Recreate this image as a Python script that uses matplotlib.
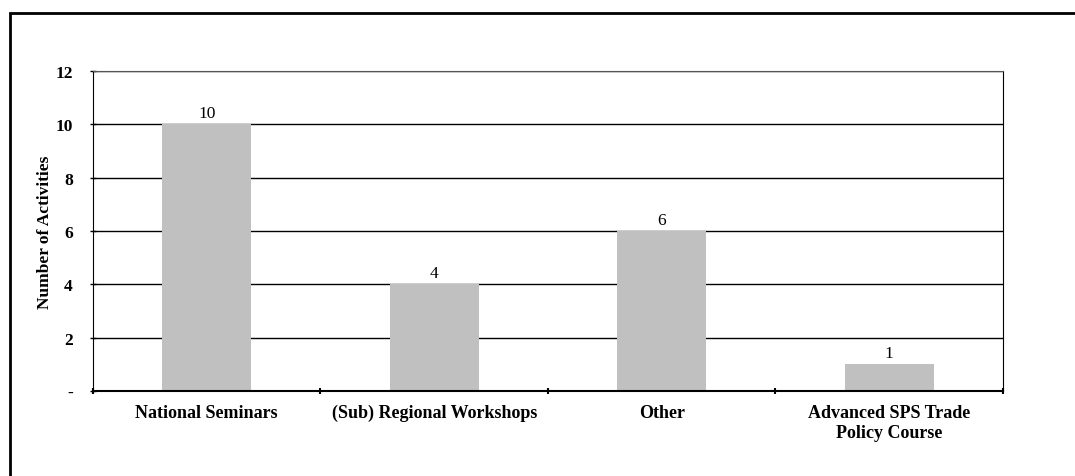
import numpy as np
import matplotlib.pyplot as plt
from matplotlib.patches import Rectangle

categories = ['National Seminars', '(Sub) Regional Workshops', 'Other', 'Advanced SPS Trade\nPolicy Course']
values = [10, 4, 6, 1]
yticks = [0, 2, 4, 6, 8, 10, 12]
ytick_labels = ['-', '2', '4', '6', '8', '10', '12']

plt.rcParams['font.family'] = ['Liberation Serif', 'DejaVu Serif']

fig = plt.figure(figsize=(10.75, 4.77), dpi=100)
ax = fig.add_axes([0.0865, 0.178, 0.8465, 0.671])

x = np.arange(len(categories))
bars = ax.bar(x, values, width=0.39, color='#c0c0c0', zorder=2)
for xi, v in zip(x, values):
    ax.text(xi, v + 0.12, str(v), ha='center', va='bottom', fontsize=12.5)

ax.set_xlim(-0.5, len(categories) - 0.5)
ax.set_ylim(0, 12)
ax.set_yticks(yticks)
ax.set_yticklabels(ytick_labels, fontsize=12.5, fontweight='bold')
ax.yaxis.grid(True, color='black', linewidth=1, zorder=1)
ax.set_axisbelow(True)

ax.set_xticks(x)
ax.set_xticklabels(categories, fontsize=13, fontweight='bold', linespacing=1.3)
ax.tick_params(axis='x', which='major', length=0, pad=9)
ax.set_xticks(np.arange(-0.5, len(categories)), minor=True)
ax.tick_params(axis='x', which='minor', length=5, width=1.5, direction='inout')
ax.tick_params(axis='y', length=5, width=1, direction='inout', pad=12)

ax.set_ylabel('Number of Activities', fontsize=12.5, fontweight='bold', labelpad=2)

ax.spines['top'].set_color('#555555')
for s in ['left', 'bottom', 'right']:
    ax.spines[s].set_color('black')
ax.spines['bottom'].set_linewidth(1.5)

fig.patches.append(Rectangle((10 / 1075, -0.1), 1.2, 1.1 - 14 / 477, transform=fig.transFigure,
                             fill=False, edgecolor='black', linewidth=2))

fig.savefig('out.png', dpi=100)
